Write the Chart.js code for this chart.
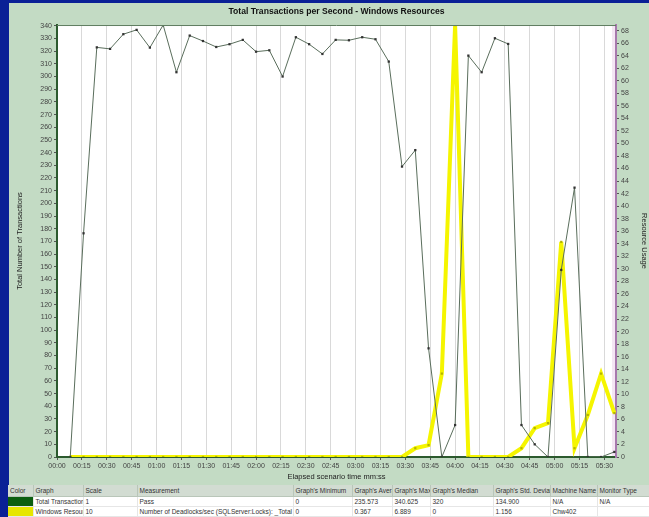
<!DOCTYPE html>
<html>
<head>
<meta charset="utf-8">
<script src="https://cdn.jsdelivr.net/npm/chart.js@4.4.1/dist/chart.umd.min.js"></script>
<style>
  html, body { margin: 0; padding: 0; }
  body { width: 649px; height: 517px; background: #0a2096; position: relative; overflow: hidden; font-family: 'Liberation Sans', Arial, sans-serif; }
  #panel { position: absolute; left: 9px; top: 3px; width: 640px; height: 482px; background: #c3dbc4; }
  #legendTable { position: absolute; left: 8px; top: 485px; width: 641px; border-collapse: collapse; table-layout: fixed; font-size: 6.5px; color: #333; }
  #legendTable td, #legendTable th { padding: 0 2px; white-space: nowrap; overflow: hidden; text-align: left; font-weight: normal; }
  #legendTable th { height: 11px; background: #d2dcd2; border-right: 1px solid #b9c6b9; border-bottom: 1px solid #b9c6b9; }
  #legendTable td { height: 9px; background: #ffffff; border-right: 1px solid #e6e6e6; border-bottom: 1px solid #e6e6e6; }
  #legendTable td.swatch { padding: 0; }
</style>
</head>
<body>
<div id="panel"><canvas id="chart" width="640" height="482"></canvas></div>
<table id="legendTable">
  <colgroup>
    <col style="width:25px"><col style="width:50px"><col style="width:54px"><col style="width:156px">
    <col style="width:59px"><col style="width:40px"><col style="width:38px"><col style="width:63px">
    <col style="width:57px"><col style="width:47px"><col style="width:52px">
  </colgroup>
  <tr><th>Color</th><th>Graph</th><th>Scale</th><th>Measurement</th><th>Graph's Minimum</th><th>Graph's Average</th><th>Graph's Maximum</th><th>Graph's Median</th><th>Graph's Std. Deviation</th><th>Machine Name</th><th>Monitor Type</th></tr>
  <tr><td class="swatch" style="background:#0b5e10"></td><td>Total Transactions</td><td>1</td><td>Pass</td><td>0</td><td>235.573</td><td>340.625</td><td>320</td><td>134.900</td><td>N/A</td><td>N/A</td></tr>
  <tr><td class="swatch" style="background:#e6e600"></td><td>Windows Resources</td><td>10</td><td>Number of Deadlocks/sec (SQLServer:Locks): _Total</td><td>0</td><td>0.367</td><td>6.889</td><td>0</td><td>1.156</td><td>Chw402</td><td></td></tr>
</table>
<script>
// elapsed time of each sample, minutes
const elapsedMinutes = [8, 16, 24, 32, 40, 48, 56, 64, 72, 80, 88, 96, 104, 112, 120, 128, 136, 144, 152, 160, 168,
  176, 184, 192, 200, 208, 216, 224, 232, 240, 248, 256, 264, 272, 280, 288, 296, 304, 312, 320, 328, 336];

// Total Transactions (left axis)
const totalTransactions = [0, 176.4, 323, 321.8, 333.4, 336.8, 322.8, 340.625, 303.4, 332.3, 328, 323.3, 325.5, 328.9,
  319.6, 320.7, 300, 331, 325.5, 317.8, 328.9, 328.6, 331, 329.4, 311.8, 229, 242, 85.7, 0, 25.2, 316.5, 303.4,
  330.2, 325.7, 25.2, 10, 0, 147.5, 212.4, 0, 0, 4];

// Number of Deadlocks/sec, scale 10 (right axis)
const deadlocksScaled = [0, 0, 0, 0, 0, 0, 0, 0, 0, 0, 0, 0, 0, 0, 0, 0, 0, 0, 0, 0, 0, 0, 0, 0, 0, 0,
  1.4, 1.9, 13.3, 68.89, 0, 0, 0, 0, 1.4, 4.6, 5.4, 34.3, 1.4, 6.7, 13.3, 7.0];

const timeLabels = ['00:00', '00:15', '00:30', '00:45', '01:00', '01:15', '01:30', '01:45', '02:00', '02:15', '02:30',
  '02:45', '03:00', '03:15', '03:30', '03:45', '04:00', '04:15', '04:30', '04:45', '05:00', '05:15', '05:30'];

const tickFont = { family: 'Liberation Sans', size: 7 };
const axisTitleFont = { family: 'Liberation Sans', size: 7.5 };
const tickColor = '#444';

const plotFrame = {
  id: 'plotFrame',
  beforeDraw(chart) {
    const { ctx, chartArea: a } = chart;
    ctx.save();
    ctx.fillStyle = '#ffffff';
    ctx.fillRect(a.left, a.top, a.right - a.left, a.bottom - a.top);
    ctx.fillStyle = '#f4e6f4';
    ctx.fillRect(a.right - 4, a.top, 4, a.bottom - a.top);
    ctx.restore();
  },
  afterDraw(chart) {
    const { ctx, chartArea: a } = chart;
    ctx.save();
    ctx.strokeStyle = '#5f7d60';
    ctx.lineWidth = 1;
    ctx.beginPath();
    ctx.moveTo(a.left, a.top + 0.5);
    ctx.lineTo(a.right, a.top + 0.5);
    ctx.stroke();
    ctx.restore();
  }
};

new Chart(document.getElementById('chart'), {
  type: 'line',
  data: {
    datasets: [
      {
        label: 'Total Transactions',
        data: elapsedMinutes.map((m, i) => ({ x: m, y: totalTransactions[i] })),
        yAxisID: 'y',
        borderColor: '#5a6e5c',
        borderWidth: 1,
        pointStyle: 'rect',
        pointRadius: 1.6,
        pointBackgroundColor: '#333333',
        pointBorderWidth: 0,
        tension: 0
      },
      {
        label: 'Windows Resources',
        data: elapsedMinutes.map((m, i) => ({ x: m, y: deadlocksScaled[i] })),
        yAxisID: 'y1',
        borderColor: '#f5f500',
        borderWidth: 4,
        pointStyle: 'rect',
        pointRadius: 1.6,
        pointBackgroundColor: '#b5b500',
        pointBorderWidth: 0,
        tension: 0
      }
    ]
  },
  options: {
    responsive: false,
    animation: false,
    devicePixelRatio: 1,
    layout: { padding: 0 },
    plugins: {
      legend: { display: false },
      tooltip: { enabled: false },
      title: {
        display: true,
        fullSize: false,
        text: 'Total Transactions per Second - Windows Resources',
        color: '#111',
        font: { family: 'Liberation Sans', size: 8.6, weight: 'bold' },
        padding: { top: 3.6, bottom: 8.1 }
      }
    },
    scales: {
      x: {
        type: 'linear',
        min: 0,
        max: 337,
        border: { color: '#2c5a2e', width: 2 },
        grid: { color: '#d9d9d9', tickColor: '#555', tickLength: 3 },
        ticks: {
          stepSize: 15, includeBounds: false, autoSkip: false, maxRotation: 0, padding: 2,
          color: tickColor, font: tickFont,
          callback: v => timeLabels[Math.round(v / 15)]
        },
        title: {
          display: true, text: 'Elapsed scenario time mm:ss', color: '#222', font: axisTitleFont,
          padding: { top: 0, bottom: 3.5 }
        },
        afterFit(s) { s.height = 28; }
      },
      y: {
        position: 'left',
        min: 0,
        max: 340.625,
        border: { color: '#2c5a2e', width: 2 },
        grid: { drawOnChartArea: false, color: '#555', tickLength: 3 },
        ticks: { stepSize: 10, includeBounds: false, autoSkip: false, padding: 2, color: tickColor, font: tickFont },
        title: {
          display: true, text: 'Total Number of Transactions', color: '#222', font: axisTitleFont,
          padding: { top: 6.5, bottom: 0 }
        },
        afterFit(s) { s.width = 48; }
      },
      y1: {
        position: 'right',
        min: 0,
        max: 68.89,
        border: { color: '#a779ad', width: 2 },
        grid: { drawOnChartArea: false, color: '#555', tickLength: 3 },
        ticks: { stepSize: 2, includeBounds: false, autoSkip: false, padding: 2, color: tickColor, font: tickFont },
        title: {
          display: true, text: 'Resource Usage', color: '#222', font: axisTitleFont,
          padding: { top: 0, bottom: 0 }
        },
        afterFit(s) { s.width = 33; }
      }
    }
  },
  plugins: [plotFrame]
});
</script>
</body>
</html>
